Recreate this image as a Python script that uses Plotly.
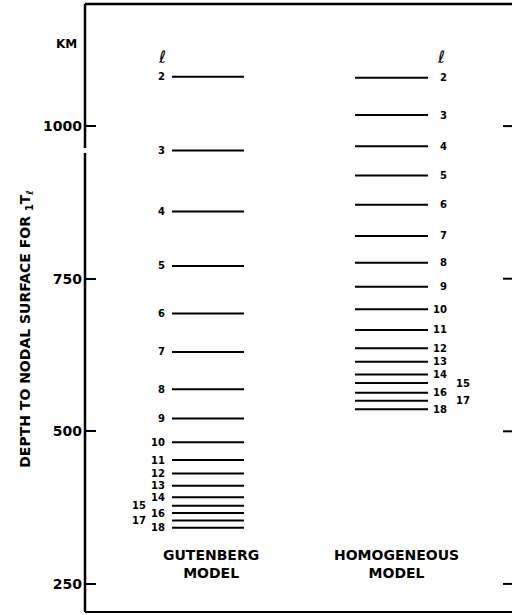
import plotly.graph_objects as go

# ---- data ----
l_values = list(range(2, 19))
gutenberg_depth = [1081, 960, 860, 771, 693, 630, 569, 521, 482, 453, 431, 411, 392, 378, 366, 354, 342]
homogeneous_depth = [1079, 1018, 967, 919, 871, 820, 776, 737, 700, 666, 636, 614, 593, 579, 563, 550, 536]
y_ticks = [250, 500, 750, 1000]
y_range = [204, 1200]

FONT = "DejaVu Sans"
BOLD = "DejaVu Sans Bold"
PLOT_LEFT, PLOT_W = 85, 427


def px_to_paper(px):
    return (px - PLOT_LEFT) / PLOT_W


fig = go.Figure()


def seg(depths, x0, x1):
    xs, ys = [], []
    for d in depths:
        xs += [x0, x1, None]
        ys += [d, d, None]
    return xs, ys


gx, gy = seg(gutenberg_depth, 172, 244)
hx, hy = seg(homogeneous_depth, 355, 428)
fig.add_trace(go.Scatter(x=gx, y=gy, mode="lines", line=dict(color="black", width=2),
                         showlegend=False, hoverinfo="skip"))
fig.add_trace(go.Scatter(x=hx, y=hy, mode="lines", line=dict(color="black", width=2),
                         showlegend=False, hoverinfo="skip"))

ann = []
lab_font = dict(family=FONT, size=10, color="black", weight="bold")
for l, d in zip(l_values, gutenberg_depth):
    xr = 148 if l in (15, 17) else 167
    ann.append(dict(x=xr, y=d, text=str(l), showarrow=False, xanchor="right",
                    yanchor="middle", font=lab_font))
for l, d in zip(l_values, homogeneous_depth):
    if l in (15, 17):
        xl = 454
    elif l >= 10:
        xl = 431
    else:
        xl = 438
    ann.append(dict(x=xl, y=d, text=str(l), showarrow=False, xanchor="left",
                    yanchor="middle", font=lab_font))

ell_font = dict(family=FONT, size=17, color="black", style="italic")
ann.append(dict(x=162, y=1114, text="ℓ", showarrow=False, font=ell_font))
ann.append(dict(x=441, y=1113, text="ℓ", showarrow=False, font=ell_font))

big = dict(family=FONT, size=14, color="black", weight="bold")
ann.append(dict(x=211, y=282, text="GUTENBERG<br>MODEL", showarrow=False, font=big))
ann.append(dict(x=396, y=282, text="HOMOGENEOUS<br>MODEL", showarrow=False, font=big))
ann.append(dict(xref="paper", x=px_to_paper(79), y=1134, text="KM", showarrow=False,
                xanchor="right", font=dict(family=FONT, size=12, color="black", weight="bold")))
ann.append(dict(xref="paper", x=px_to_paper(15), y=668,
                text="DEPTH TO NODAL SURFACE FOR <sub>1</sub>T<sub>ℓ</sub>",
                textangle=-90, showarrow=False,
                font=dict(family=FONT, size=14, color="black", weight="bold")))

shapes = []
shapes.append(dict(type="line", xref="paper", yref="y", x0=0, x1=0, y0=y_range[0], y1=956,
                   line=dict(color="black", width=2.5)))
shapes.append(dict(type="line", xref="paper", yref="y", x0=0, x1=0, y0=964, y1=y_range[1],
                   line=dict(color="black", width=2.5)))
shapes.append(dict(type="line", xref="paper", yref="paper", x0=0, x1=1, y0=1, y1=1,
                   line=dict(color="black", width=2.5)))
shapes.append(dict(type="line", xref="paper", yref="paper", x0=0, x1=1, y0=0, y1=0,
                   line=dict(color="black", width=2)))
for t in y_ticks:
    shapes.append(dict(type="line", xref="paper", yref="y", x0=px_to_paper(503), x1=1, y0=t, y1=t,
                       line=dict(color="black", width=2)))

fig.update_layout(
    width=512, height=615,
    margin=dict(l=PLOT_LEFT, r=0, t=4, b=3),
    paper_bgcolor="white", plot_bgcolor="white",
    annotations=ann, shapes=shapes,
    xaxis=dict(range=[PLOT_LEFT, PLOT_LEFT + PLOT_W], visible=False, fixedrange=True),
    yaxis=dict(range=y_range, tickvals=y_ticks, ticktext=[str(t) for t in y_ticks],
               ticks="inside", ticklen=11, tickwidth=2, tickcolor="black",
               showline=False, showgrid=False, zeroline=False,
               tickfont=dict(family=FONT, size=14, color="black", weight="bold"),
               ticklabelstandoff=2),
)

fig.write_html("out.html")
